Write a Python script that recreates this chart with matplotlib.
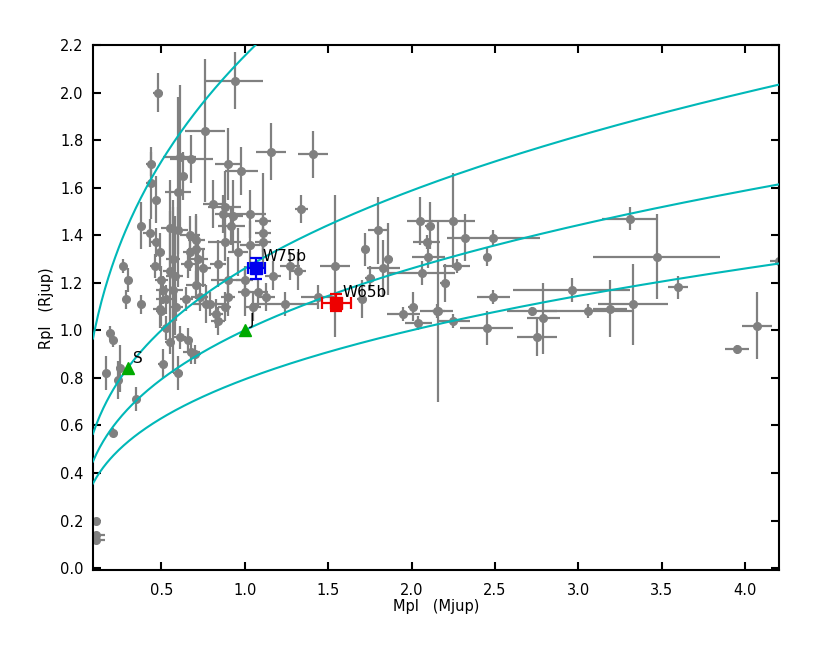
import matplotlib
matplotlib.use("Agg")
import matplotlib.pyplot as plt
import numpy as np

plt.rcParams['font.family'] = ['DejaVu Sans']

# planet sample: mass (Mjup), radius (Rjup) and their errors
mass = [0.48, 0.94, 0.76, 0.61, 0.63, 0.68, 0.44, 0.44, 0.60, 0.90, 0.98, 1.16, 1.41, 1.34,
        0.47, 0.81, 0.88, 1.11, 0.93, 0.87, 1.03, 0.92,
        0.38, 0.43, 0.55, 0.60, 0.47, 0.49, 0.67, 0.71, 0.88, 1.03, 1.11, 1.11, 0.96, 0.71,
        0.67, 0.72, 0.66, 0.55, 0.57, 0.27, 0.30, 0.29, 0.38, 0.46, 0.50, 0.58, 0.51, 0.57,
        0.53, 0.49, 0.59, 0.71, 0.65, 0.73, 0.77, 0.75, 0.84, 0.83, 0.84, 0.50, 0.79, 0.90,
        0.90, 0.88, 1.00, 1.00, 1.08, 1.13, 1.17, 1.27, 1.32, 1.24, 1.05, 1.44,
        0.55, 0.53, 0.61, 0.66, 0.68, 0.70, 0.51, 0.60, 0.35, 0.19, 0.21, 0.17, 0.25, 0.24,
        0.21, 0.11, 0.11, 0.11,
        1.80, 1.72, 1.86, 1.83, 1.75, 1.54, 1.70, 2.05, 2.11, 2.25, 2.09, 2.32, 2.49, 2.10,
        2.45, 2.27, 2.06, 2.20, 2.16, 2.49, 1.95, 2.01, 2.04, 2.15, 2.25, 2.45, 2.72, 2.79,
        2.75, 3.31, 3.47, 3.60, 2.96, 3.06, 3.19, 3.33, 4.07, 3.95, 4.20]
radius = [2.00, 2.05, 1.84, 1.73, 1.65, 1.72, 1.70, 1.62, 1.58, 1.70, 1.67, 1.75, 1.74, 1.51,
          1.55, 1.53, 1.52, 1.46, 1.48, 1.49, 1.49, 1.44,
          1.44, 1.41, 1.43, 1.42, 1.37, 1.33, 1.40, 1.38, 1.37, 1.36, 1.41, 1.37, 1.33, 1.34,
          1.33, 1.30, 1.28, 1.25, 1.30, 1.27, 1.21, 1.13, 1.11, 1.27, 1.21, 1.23, 1.17, 1.17,
          1.13, 1.09, 1.10, 1.19, 1.13, 1.14, 1.11, 1.26, 1.28, 1.07, 1.04, 1.08, 1.11, 1.21,
          1.14, 1.10, 1.21, 1.16, 1.16, 1.14, 1.23, 1.27, 1.25, 1.11, 1.10, 1.14,
          0.95, 1.01, 0.97, 0.96, 0.91, 0.90, 0.86, 0.82, 0.71, 0.99, 0.96, 0.82, 0.84, 0.79,
          0.57, 0.20, 0.14, 0.12,
          1.42, 1.34, 1.30, 1.26, 1.22, 1.27, 1.13, 1.46, 1.44, 1.46, 1.37, 1.39, 1.39, 1.31,
          1.31, 1.27, 1.24, 1.20, 1.08, 1.14, 1.07, 1.10, 1.03, 1.08, 1.04, 1.01, 1.08, 1.05,
          0.97, 1.47, 1.31, 1.18, 1.17, 1.08, 1.09, 1.11, 1.02, 0.92, 1.29]
mass_err = [0.03, 0.17, 0.12, 0.10, 0.03, 0.13, 0.03, 0.03, 0.08, 0.08, 0.10, 0.09, 0.09, 0.04,
            0.03, 0.06, 0.10, 0.05, 0.06, 0.05, 0.10, 0.08,
            0.02, 0.04, 0.05, 0.06, 0.03, 0.03, 0.06, 0.05, 0.10, 0.06, 0.05, 0.05, 0.06, 0.05,
            0.04, 0.06, 0.04, 0.04, 0.04, 0.02, 0.02, 0.01, 0.02, 0.03, 0.04, 0.05, 0.04, 0.06,
            0.06, 0.04, 0.04, 0.06, 0.04, 0.05, 0.05, 0.05, 0.05, 0.04, 0.04, 0.03, 0.10, 0.10,
            0.04, 0.04, 0.05, 0.04, 0.06, 0.05, 0.05, 0.06, 0.05, 0.20, 0.05, 0.10,
            0.03, 0.03, 0.04, 0.03, 0.05, 0.04, 0.03, 0.03, 0.02, 0.02, 0.02, 0.02, 0.02, 0.02,
            0.03, 0.01, 0.05, 0.05,
            0.06, 0.02, 0.03, 0.10, 0.03, 0.09, 0.03, 0.08, 0.03, 0.13, 0.08, 0.03, 0.28, 0.10,
            0.02, 0.08, 0.20, 0.03, 0.04, 0.10, 0.10, 0.03, 0.08, 0.10, 0.10, 0.16, 0.15, 0.10,
            0.12, 0.17, 0.38, 0.06, 0.35, 0.27, 0.10, 0.21, 0.09, 0.07, 0.05]
radius_err = [0.08, 0.12, 0.30, 0.30, 0.10, 0.10, 0.05, 0.15, 0.40, 0.15, 0.10, 0.12, 0.10, 0.06,
              0.10, 0.10, 0.15, 0.20, 0.15, 0.08, 0.10, 0.08,
              0.10, 0.06, 0.20, 0.10, 0.06, 0.08, 0.08, 0.10, 0.08, 0.10, 0.08, 0.06, 0.10, 0.15,
              0.08, 0.10, 0.06, 0.25, 0.25, 0.03, 0.05, 0.04, 0.04, 0.05, 0.06, 0.25, 0.06, 0.35,
              0.06, 0.08, 0.06, 0.06, 0.05, 0.06, 0.08, 0.08, 0.10, 0.06, 0.06, 0.06, 0.05, 0.10,
              0.08, 0.06, 0.06, 0.10, 0.06, 0.06, 0.06, 0.06, 0.08, 0.05, 0.06, 0.05,
              0.05, 0.05, 0.05, 0.05, 0.05, 0.04, 0.06, 0.07, 0.05, 0.03, 0.03, 0.07, 0.10, 0.08,
              0.02, 0.01, 0.01, 0.01,
              0.14, 0.07, 0.15, 0.12, 0.05, 0.30, 0.08, 0.10, 0.10, 0.20, 0.03, 0.10, 0.03, 0.05,
              0.04, 0.03, 0.05, 0.08, 0.38, 0.03, 0.03, 0.06, 0.03, 0.03, 0.03, 0.07, 0.02, 0.15,
              0.08, 0.05, 0.18, 0.05, 0.05, 0.03, 0.12, 0.17, 0.14, 0.02, 0.10]

# highlighted planets
w75_mass, w75_radius, w75_merr, w75_rerr = 1.07, 1.26, 0.05, 0.045
w65_mass, w65_radius, w65_merr, w65_rerr = 1.55, 1.115, 0.087, 0.036
solar_names = ["S", "J"]
solar_mass = [0.299, 1.0]
solar_radius = [0.843, 1.0]

# iso-density curves (in units of Jupiter's density)
densities = [0.1, 0.5, 1.0, 2.0]

fig = plt.figure(figsize=(8.3, 6.61), dpi=100)
ax = fig.add_axes([0.112, 0.137, 0.826, 0.795])

ax.errorbar(mass, radius, xerr=mass_err, yerr=radius_err, fmt='o', color='#808080',
            ms=5.5, elinewidth=1.6, capsize=0, zorder=2)

m = np.linspace(0.09, 4.2, 400)
for rho in densities:
    ax.plot(m, (m / rho) ** (1.0 / 3.0), color='#00b8b8', lw=1.5, zorder=3)

ax.errorbar([w75_mass], [w75_radius], xerr=[w75_merr], yerr=[w75_rerr], fmt='s', color='#0000ee',
            ms=8, elinewidth=1.6, capsize=4, capthick=1.6, zorder=4)
ax.errorbar([w65_mass], [w65_radius], xerr=[w65_merr], yerr=[w65_rerr], fmt='s', color='#ee0000',
            ms=8, elinewidth=1.6, capsize=4, capthick=1.6, zorder=4)
ax.plot(solar_mass, solar_radius, '^', color='#00aa00', ms=9, zorder=4)

ax.text(w75_mass + 0.035, w75_radius + 0.05, "W75b", fontsize=11, va='center', zorder=5)
ax.text(w65_mass + 0.035, w65_radius + 0.045, "W65b", fontsize=11, va='center', zorder=5)
for name, xm, yr in zip(solar_names, solar_mass, solar_radius):
    ax.text(xm + 0.03, yr + 0.04, name, fontsize=11, va='center', zorder=5)

ax.set_xlim(0.09, 4.2)
ax.set_ylim(-0.01, 2.2)
ax.set_xticks(np.arange(0.5, 4.01, 0.5))
ax.set_yticks(np.arange(0.0, 2.21, 0.2))
ax.xaxis.set_major_formatter(matplotlib.ticker.FormatStrFormatter('%.1f'))
ax.yaxis.set_major_formatter(matplotlib.ticker.FormatStrFormatter('%.1f'))
ax.tick_params(direction='in', top=True, right=True, length=6, width=1.5, labelsize=10.5)
ax.tick_params(axis='x', pad=9)
ax.tick_params(axis='y', pad=7)
for sp in ax.spines.values():
    sp.set_linewidth(1.5)

ax.set_xlabel("Mpl   (Mjup)", fontsize=10.5, labelpad=1)
ax.set_ylabel("Rpl   (Rjup)", fontsize=10.5, labelpad=4)

fig.savefig("out.png", dpi=100)
